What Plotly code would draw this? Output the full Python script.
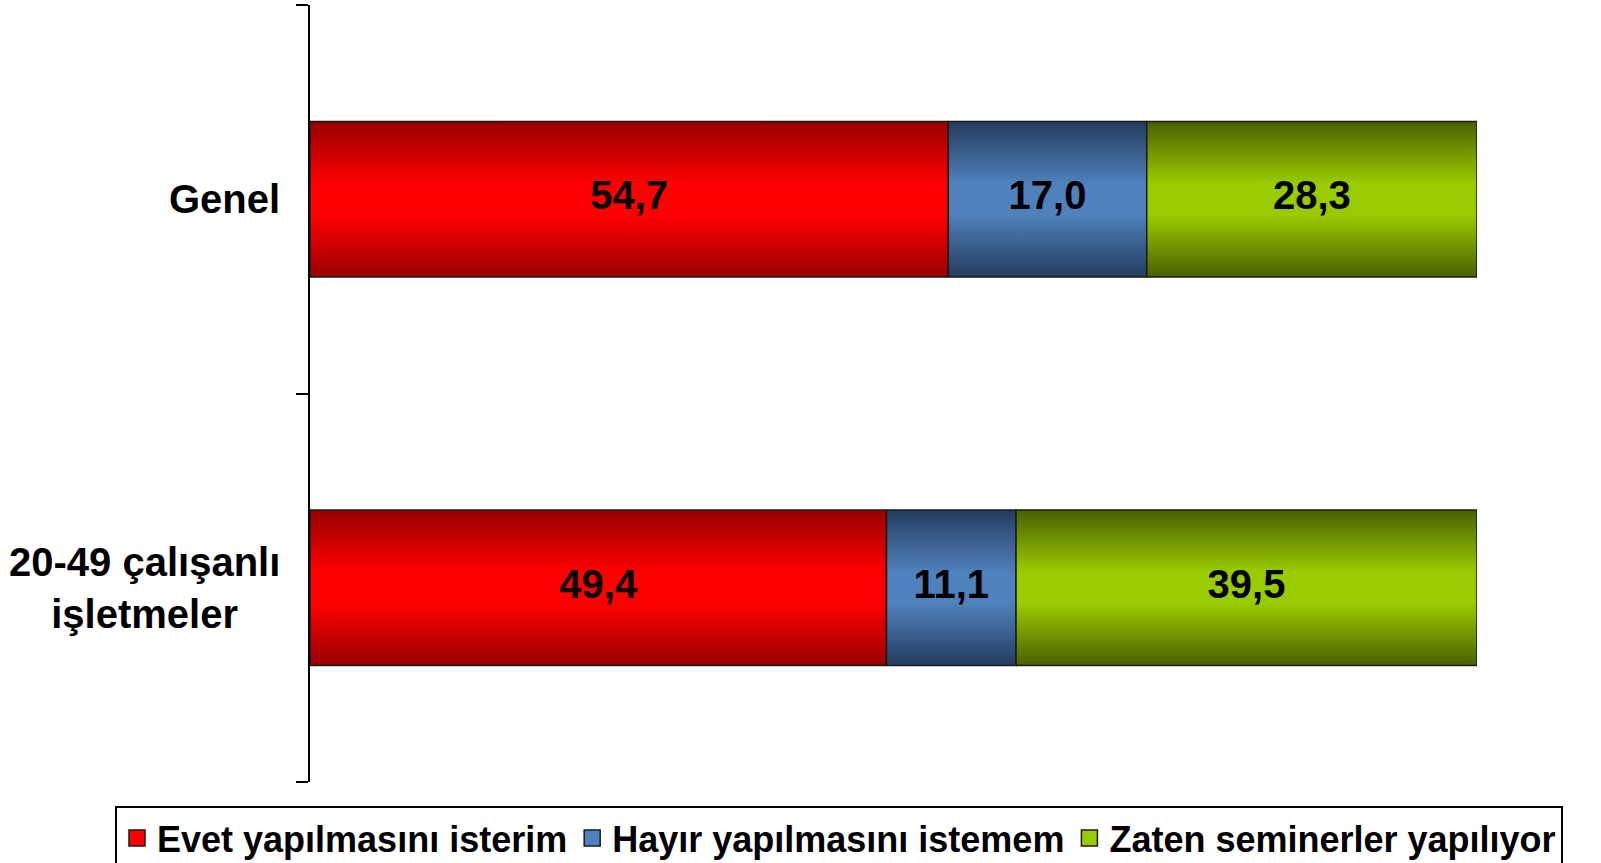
import plotly.graph_objects as go

# y position 0 = bottom bar, 1 = top bar
categories = ["20-49 çalışanlı<br>işletmeler", "Genel"]
series_names = ["Evet yapılmasını isterim", "Hayır yapılmasını istemem", "Zaten seminerler yapılıyor"]
evet = [49.4, 54.7]
hayir = [11.1, 17.0]
zaten = [39.5, 28.3]

series_values = [evet, hayir, zaten]
# (dark edge, bright middle) for the vertical gradient
colors = [("#990000", "#ff0000"), ("#243c5e", "#4f81bd"), ("#4a6000", "#99cc00")]

FONT = "Liberation Sans, Arial, sans-serif"
half = 0.2

fig = go.Figure()

text_x, text_y, text_s = [], [], []
for i, cat in enumerate(categories):
    start = 0.0
    for vals, (dark, mid) in zip(series_values, colors):
        v = vals[i]
        end = start + v
        fig.add_trace(go.Scatter(
            x=[start, end, end, start, start],
            y=[i - half, i - half, i + half, i + half, i - half],
            mode="lines",
            fill="toself",
            fillgradient=dict(
                type="vertical",
                colorscale=[[0, dark], [0.4, mid], [0.6, mid], [1, dark]],
            ),
            line=dict(color="#1a1a1a", width=1.5),
            hoverinfo="skip",
            showlegend=False,
        ))
        text_x.append(start + v / 2)
        text_y.append(i)
        text_s.append(f"{v:.1f}".replace(".", ","))
        start = end

fig.add_trace(go.Scatter(
    x=text_x, y=text_y, text=text_s, mode="text",
    textfont=dict(family=FONT, size=40, color="black", weight="bold"),
    showlegend=False, hoverinfo="skip",
))

# legend entries
for name, (dark, mid) in zip(series_names, colors):
    fig.add_trace(go.Scatter(
        x=[None], y=[None], name=name, mode="markers",
        marker=dict(symbol="square", size=16, color=mid,
                    line=dict(color="#1a1a1a", width=1.5)),
    ))

for i, cat in enumerate(categories):
    fig.add_annotation(
        x=0, y=i, xref="x", yref="y", text=cat, showarrow=False,
        xanchor="right", yanchor="middle", align="center", xshift=-28,
        font=dict(family=FONT, size=40, color="black", weight="bold"),
    )

fig.update_layout(
    width=1601, height=863,
    paper_bgcolor="white", plot_bgcolor="white",
    margin=dict(l=310, r=124, t=5, b=81, autoexpand=False),
    xaxis=dict(range=[0, 100], visible=False, fixedrange=True),
    yaxis=dict(
        range=[-0.5, 1.5], tickvals=[-0.5, 0.5, 1.5], ticktext=["", "", ""],
        ticks="outside", ticklen=12, tickwidth=2, tickcolor="black",
        showline=True, linecolor="black", linewidth=2,
        showgrid=False, zeroline=False, fixedrange=True,
    ),
    legend=dict(
        orientation="h", xref="paper", yref="paper",
        x=(115 - 310) / 1167, y=-(806 - 782) / 777, xanchor="left", yanchor="top",
        bordercolor="black", borderwidth=2, itemwidth=30,
        font=dict(family=FONT, size=36, color="black", weight="bold"),
        traceorder="normal", itemclick=False,
    ),
    showlegend=True,
)

fig.write_html("out.html", config={"displayModeBar": False},
               post_script="document.body.style.margin='0';")
